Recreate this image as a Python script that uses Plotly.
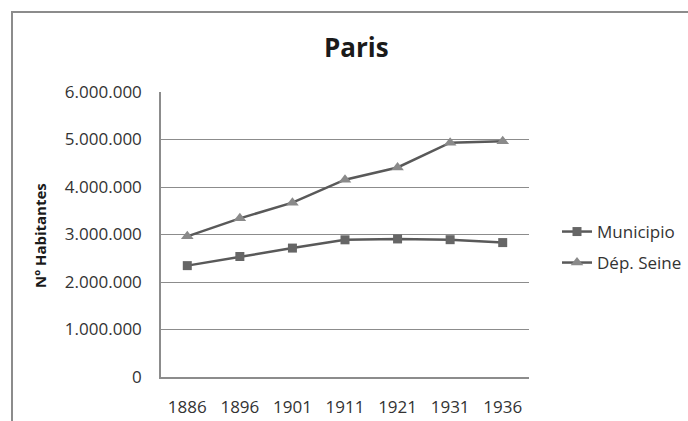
import plotly.graph_objects as go

years = ["1886", "1896", "1901", "1911", "1921", "1931", "1936"]
municipio = [2344550, 2536834, 2714068, 2888107, 2906472, 2891020, 2829746]
seine = [2961089, 3340514, 3669930, 4154042, 4411691, 4933855, 4962868]
y_ticks = [0, 1000000, 2000000, 3000000, 4000000, 5000000, 6000000]
y_tick_labels = ["0", "1.000.000", "2.000.000", "3.000.000", "4.000.000", "5.000.000", "6.000.000"]

FONT = "Open Sans"
LINE = "#595959"
TXT = "#333333"

fig = go.Figure()
fig.add_trace(go.Scatter(
    x=years, y=municipio, name="Municipio", mode="lines+markers",
    line=dict(color=LINE, width=2.5),
    marker=dict(symbol="square", size=9, color="#666666"),
    legend="legend", showlegend=True,
))
fig.add_trace(go.Scatter(
    x=years, y=seine, name="Dép. Seine", mode="lines+markers",
    line=dict(color=LINE, width=2.5),
    marker=dict(symbol="triangle-up", size=11, color="#8a8a8a"),
    legend="legend2", showlegend=True,
))

fig.update_layout(
    width=688, height=421,
    margin=dict(l=161, r=159, t=92, b=44, autoexpand=False),
    paper_bgcolor="white", plot_bgcolor="white",
    showlegend=True,
    font=dict(family=FONT, size=17, color=TXT),
    xaxis=dict(
        type="category", range=[-0.5, 6.5], showgrid=False,
        showline=True, linecolor="#8c8c8c", linewidth=1.5,
        ticks="", ticklabelstandoff=14, automargin=False,
        tickfont=dict(family=FONT, size=17, color=TXT),
    ),
    yaxis=dict(
        range=[0, 6000000], tickvals=y_ticks, ticktext=y_tick_labels,
        showgrid=True, gridcolor="#8c8c8c", gridwidth=1,
        showline=True, linecolor="#8c8c8c", linewidth=1.5,
        zeroline=False, ticks="", ticklabelstandoff=14, automargin=False,
        tickfont=dict(family=FONT, size=17, color=TXT),
    ),
    legend=dict(x=(557 - 161) / 368, y=(377 - 232) / 285, xanchor="left", yanchor="middle",
                bgcolor="rgba(0,0,0,0)", font=dict(family=FONT, size=17, color=TXT),
                itemwidth=30, visible=True),
    legend2=dict(x=(557 - 161) / 368, y=(377 - 263) / 285, xanchor="left", yanchor="middle",
                 bgcolor="rgba(0,0,0,0)", font=dict(family=FONT, size=17, color=TXT),
                 itemwidth=30, visible=True),
    annotations=[
        dict(text="<b>Paris</b>", xref="paper", yref="paper",
             x=(356 - 161) / 368, y=(377 - 47) / 285, xanchor="center", yanchor="middle",
             showarrow=False, font=dict(family=FONT, size=26, color="#1a1a1a")),
        dict(text="<b>Nº Habitantes</b>", xref="paper", yref="paper",
             x=(40 - 161) / 368, y=(377 - 236) / 285, xanchor="center", yanchor="middle",
             textangle=-90, showarrow=False,
             font=dict(family=FONT, size=15, color="#1a1a1a")),
    ],
    shapes=[dict(type="rect", xref="paper", yref="paper",
                 x0=(12 - 161) / 368, x1=1.6, y0=-0.5, y1=(377 - 12) / 285,
                 line=dict(color="#8c8c8c", width=2), fillcolor="rgba(0,0,0,0)",
                 layer="below")],
)

fig.write_html("out.html", config={"displayModeBar": False},
               post_script="document.body.style.margin='0';document.body.style.overflow='hidden';")
